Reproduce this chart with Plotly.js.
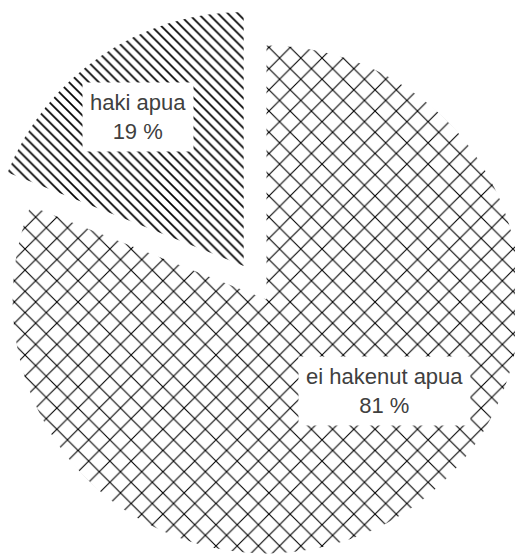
<!DOCTYPE html>
<html>
<head>
<meta charset="utf-8">
<script src="https://cdn.plot.ly/plotly-3.0.1.min.js"></script>
<style>
  html, body { margin: 0; padding: 0; width: 515px; height: 557px; overflow: hidden; background: #ffffff; }
  #wrap { position: relative; width: 515px; height: 557px; overflow: hidden; }
  #chart { position: absolute; left: -28px; top: 5px; width: 589px; height: 589px; }
</style>
</head>
<body>
<div id="wrap"><div id="chart"></div></div>
<script>
// Data
const categories = ['ei hakenut apua', 'haki apua'];
const percentages = [81, 19];
const pulls = [0, 0.16];
const patternShapes = ['x', '\\'];
const patternSizes = [15, 7];
const patternSolidity = [0.14, 0.24];
const labelPositions = [[0.6995, 0.3447], [0.282, 0.810]];

const trace = {
  type: 'pie',
  labels: categories,
  values: percentages,
  sort: false,
  direction: 'clockwise',
  rotation: 0,
  pull: pulls,
  textinfo: 'none',
  hoverinfo: 'none',
  showlegend: false,
  marker: {
    colors: ['#ffffff', '#ffffff'],
    line: { width: 0 },
    pattern: {
      shape: patternShapes,
      size: patternSizes,
      solidity: patternSolidity,
      fgcolor: '#000000',
      bgcolor: '#ffffff',
      fillmode: 'replace'
    }
  },
  domain: { x: [0, 1], y: [0, 1] }
};

const annotations = categories.map((c, i) => ({
  xref: 'paper', yref: 'paper',
  x: labelPositions[i][0], y: labelPositions[i][1],
  xanchor: 'center', yanchor: 'middle',
  text: c + '<br>' + percentages[i] + ' %',
  showarrow: false,
  bgcolor: '#ffffff',
  borderpad: 7,
  font: { family: 'Liberation Sans, Arial, sans-serif', size: 22, color: '#404040' }
}));

const layout = {
  width: 589, height: 589,
  margin: { l: 0, r: 0, t: 0, b: 0, pad: 0 },
  paper_bgcolor: 'rgba(0,0,0,0)',
  plot_bgcolor: 'rgba(0,0,0,0)',
  showlegend: false,
  annotations: annotations
};

Plotly.newPlot('chart', [trace], layout, { displayModeBar: false, staticPlot: true });
</script>
</body>
</html>
